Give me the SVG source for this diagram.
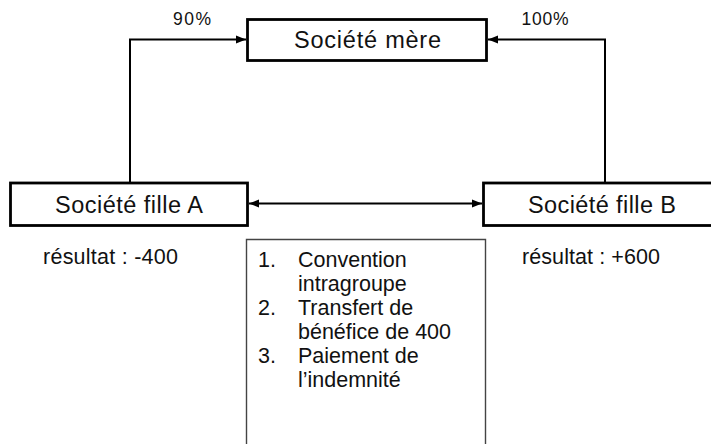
<svg xmlns="http://www.w3.org/2000/svg" width="711" height="444" viewBox="0 0 711 444">
<style>
text{font-family:"Liberation Sans",Arial,sans-serif;fill:#111}
.box{fill:#fff;stroke:#000;stroke-width:2.8}
.lbl{font-size:23.5px;text-anchor:middle}
.pct{font-size:17.5px;text-anchor:middle}
.res{font-size:21.5px}
.lst{font-size:21.5px}
.con{fill:none;stroke:#000;stroke-width:2}
</style>
<defs>
<marker id="ah" markerUnits="userSpaceOnUse" markerWidth="10" markerHeight="10" viewBox="0 0 10 10" refX="10" refY="5" orient="auto-start-reverse">
<path d="M0,1 L10,5 L0,9 Z" fill="#000"/>
</marker>
</defs>
<g id="connectors">
<path class="con" d="M130,183 V39.5 H246" marker-end="url(#ah)"/>
<path class="con" d="M605,183 V39.5 H488" marker-end="url(#ah)"/>
<path class="con" d="M249,203.5 H482" marker-start="url(#ah)" marker-end="url(#ah)"/>
<text class="pct" x="192" y="25" textLength="38">90%</text>
<text class="pct" x="545" y="25" textLength="47">100%</text>
</g>
<g id="mere">
<rect class="box" x="247.5" y="19.5" width="239" height="41"/>
<text class="lbl" x="367.5" y="47.5" textLength="147">Société mère</text>
</g>
<g id="filleA">
<rect class="box" x="10.5" y="183" width="237" height="42.5"/>
<text class="lbl" x="129" y="213" textLength="148">Société fille A</text>
<text class="res" x="43" y="264" textLength="135">résultat : -400</text>
</g>
<g id="filleB">
<rect class="box" x="483.5" y="183" width="240" height="42.5"/>
<text class="lbl" x="602" y="213" textLength="148">Société fille B</text>
<text class="res" x="522" y="264" textLength="138">résultat : +600</text>
</g>
<g id="liste">
<path d="M246.5,450 V239.5 H485.5 V450" fill="none" stroke="#444" stroke-width="1.4"/>
<text class="lst" x="258" y="266.5">1.</text>
<text class="lst" x="298" y="266.5">Convention</text>
<text class="lst" x="298" y="290.7">intragroupe</text>
<text class="lst" x="258" y="314.9">2.</text>
<text class="lst" x="298" y="314.9">Transfert de</text>
<text class="lst" x="298" y="339">bénéfice de 400</text>
<text class="lst" x="258" y="363.2">3.</text>
<text class="lst" x="298" y="363.2">Paiement de</text>
<text class="lst" x="298" y="387.4">l’indemnité</text>
</g>
</svg>
